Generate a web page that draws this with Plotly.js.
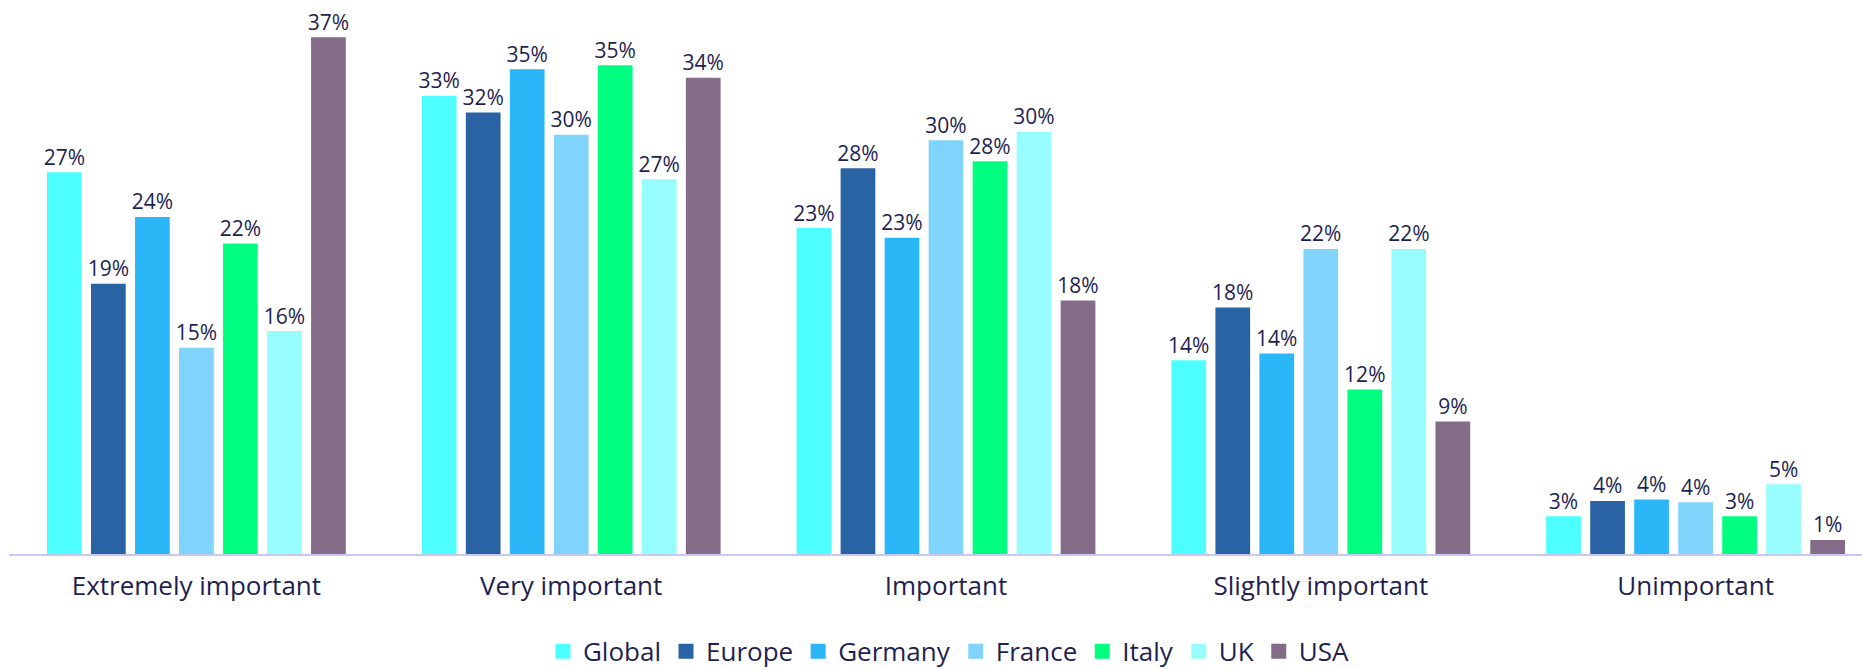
<!DOCTYPE html>
<html>
<head>
<meta charset="utf-8">
<script src="https://cdn.plot.ly/plotly-3.0.1.min.js"></script>
<style>
  html, body { margin: 0; padding: 0; background: #ffffff; }
  #chart { width: 1862px; height: 669px; }
</style>
</head>
<body>
<div id="chart"></div>
<script>
const categories = ["Extremely important", "Very important", "Important", "Slightly important", "Unimportant"];

const seriesNames = ["Global", "Europe", "Germany", "France", "Italy", "UK", "USA"];

const globalValues  = [27.3, 32.8, 23.3, 13.8, 2.6];
const europeValues  = [19.3, 31.6, 27.6, 17.6, 3.7];
const germanyValues = [24.1, 34.7, 22.6, 14.3, 3.8];
const franceValues  = [14.7, 30.0, 29.6, 21.8, 3.6];
const italyValues   = [22.2, 35.0, 28.1, 11.7, 2.6];
const ukValues      = [15.9, 26.8, 30.2, 21.8, 4.9];
const usaValues     = [37.0, 34.1, 18.1, 9.4, 0.9];

const seriesValues = [globalValues, europeValues, germanyValues, franceValues, italyValues, ukValues, usaValues];
const seriesColors = ["#4dffff", "#2963a3", "#2bb6f8", "#80d3fb", "#00ff80", "#96fdfc", "#846c88"];

const FONT = "'Open Sans', 'DejaVu Sans', sans-serif";
const TEXT_COLOR = "#1f1f52";

const traces = seriesNames.map((name, i) => ({
  type: "bar",
  name: name,
  x: categories,
  y: seriesValues[i],
  marker: { color: seriesColors[i], line: { width: 3, color: seriesColors[i] } },
  texttemplate: "%{y:.0f}%",
  textposition: "outside",
  constraintext: "none",
  cliponaxis: false,
  textfont: { family: FONT, size: 21, color: TEXT_COLOR },
  hoverinfo: "skip"
}));

const layout = {
  width: 1862,
  height: 669,
  margin: { l: 9, r: 0, t: 4, b: 115, autoexpand: false },
  paper_bgcolor: "#ffffff",
  plot_bgcolor: "#ffffff",
  barmode: "group",
  bargap: 0.178,
  bargroupgap: 0.2795,
  showlegend: true,
  legend: {
    orientation: "h",
    x: 0.507,
    xanchor: "center",
    y: -0.177,
    yanchor: "middle",
    font: { family: FONT, size: 26, color: TEXT_COLOR },
    itemwidth: 30,
    traceorder: "normal"
  },
  xaxis: {
    type: "category",
    range: [-0.5, 4.444],
    showline: true,
    linecolor: "#c8c8f2",
    linewidth: 2,
    layer: "above traces",
    ticks: "",
    ticklabelstandoff: 8,
    showgrid: false,
    zeroline: false,
    tickfont: { family: FONT, size: 26, color: TEXT_COLOR },
    fixedrange: true
  },
  yaxis: {
    range: [0, 39.5],
    visible: false,
    showgrid: false,
    zeroline: false,
    fixedrange: true
  },
  hovermode: false
};

Plotly.newPlot("chart", traces, layout, { displayModeBar: false, staticPlot: true });
</script>
</body>
</html>
